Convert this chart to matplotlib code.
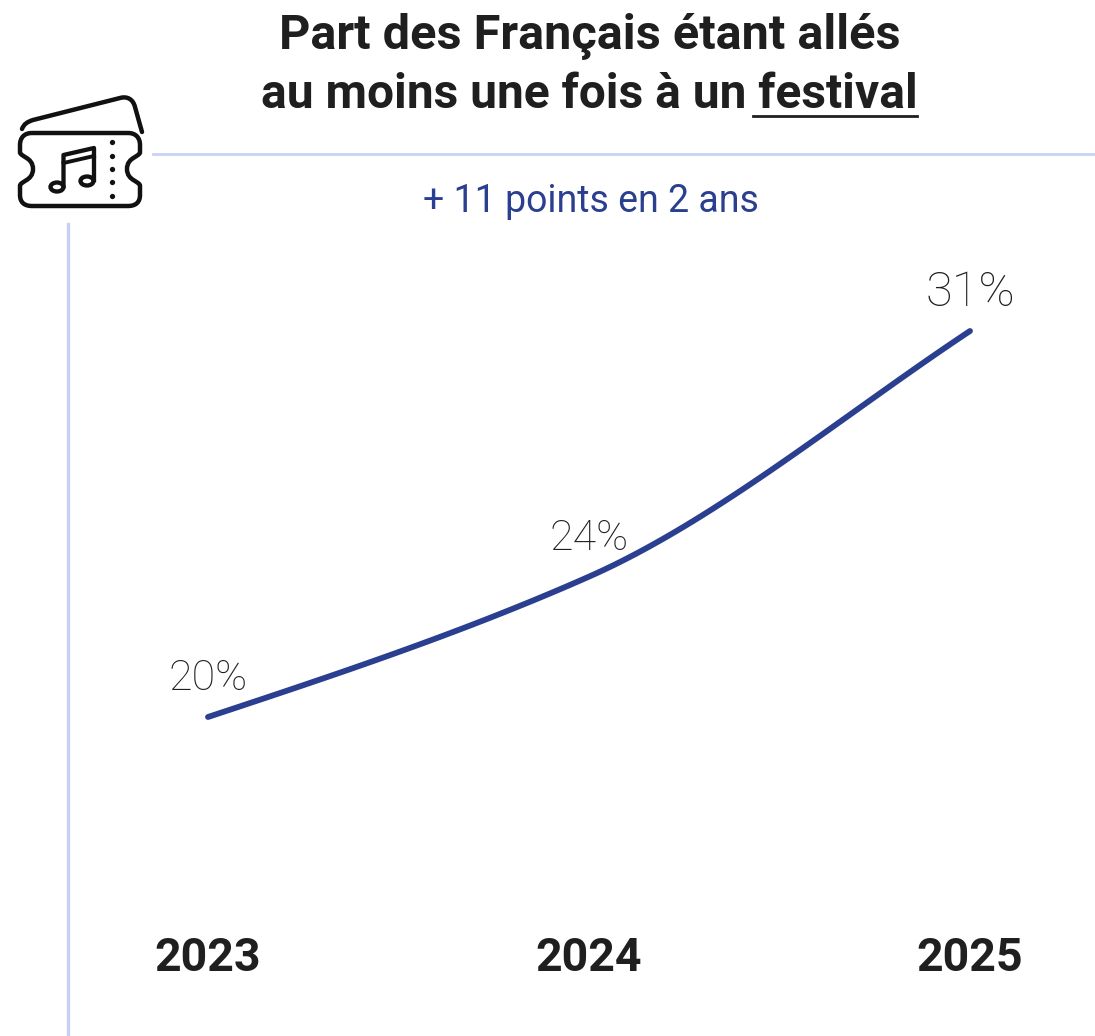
import matplotlib
matplotlib.use("Agg")
from matplotlib import pyplot as plt
from matplotlib.path import Path
from matplotlib.patches import PathPatch, Ellipse
import numpy as np

years = [2023, 2024, 2025]
values = [20, 24, 31]
year_labels = ["2023", "2024", "2025"]
value_labels = ["20%", "24%", "31%"]

W, H = 1095, 1036
blue = "#2a3f8f"
pale = "#c8d1f5"
dark = "#1f1f1f"
ink = "#111111"
plt.rcParams["font.family"] = ["Roboto", "DejaVu Sans"]

fig = plt.figure(figsize=(W / 100, H / 100), dpi=100)

# pixel overlay for the decoration
bg = fig.add_axes([0, 0, 1, 1])
bg.set_xlim(0, W)
bg.set_ylim(H, 0)
bg.axis("off")

# chart axes: x years, y percent
ax = fig.add_axes([208 / W, 1 - 717 / H, (970 - 208) / W, (717 - 331) / H])
ax.set_xlim(2023, 2025)
ax.set_ylim(20, 31)
ax.axis("off")

# smooth curve through the three points, tangents set by eye
tang = [3.6, 4.8, 7.2]
xs = []
ys = []
for i in range(2):
    t = np.linspace(0, 1, 60)
    h00 = 2 * t**3 - 3 * t**2 + 1
    h10 = t**3 - 2 * t**2 + t
    h01 = -2 * t**3 + 3 * t**2
    h11 = t**3 - t**2
    xs.extend(years[i] + t)
    ys.extend(h00 * values[i] + h10 * tang[i] + h01 * values[i + 1] + h11 * tang[i + 1])
ax.plot(xs, ys, color=blue, lw=4.2, solid_capstyle="round", clip_on=False)

# point labels
ax.annotate(value_labels[0], (years[0], values[0]), xytext=(0, 13), textcoords="offset points",
            ha="center", va="bottom", fontsize=31, color=dark, fontweight="light")
ax.annotate(value_labels[1], (years[1], values[1]), xytext=(0, 13), textcoords="offset points",
            ha="center", va="bottom", fontsize=31, color=dark, fontweight="light")
ax.annotate(value_labels[2], (years[2], values[2]), xytext=(0, 11), textcoords="offset points",
            ha="center", va="bottom", fontsize=35, color=dark, fontweight="light")

# year labels
for y, lab in zip(years, year_labels):
    ax.annotate(lab, (y, 20), xytext=(0, -173.5), textcoords="offset points",
                ha="center", va="center", fontsize=33.5, color=dark, fontweight="bold")

# title
bg.text(589.5, 36, "Part des Français étant allés", ha="center", va="center",
        fontsize=35, fontweight="bold", color=dark)
bg.text(589.5, 95, "au moins une fois à un festival", ha="center", va="center",
        fontsize=34.5, fontweight="bold", color=dark)
bg.plot([753, 917], [116, 116], color=dark, lw=2)

# subtitle
bg.text(591, 201, "+ 11 points en 2 ans", ha="center", va="center", fontsize=27, color=blue)

# rules
bg.plot([153, 1095], [153.5, 153.5], color=pale, lw=2)
bg.plot([67.5, 67.5], [224, 1036], color=pale, lw=2.4)

# ticket icon
M, L, C = Path.MOVETO, Path.LINETO, Path.CURVE4
body = [
    (M, (32, 133)), (L, (128, 133)),
    (C, (136, 133)), (C, (140, 138)), (C, (140, 145)),
    (L, (140, 152)),
    (C, (140, 157)), (C, (127, 157)), (C, (127, 169)),
    (C, (127, 181)), (C, (140, 181)), (C, (140, 186)),
    (L, (140, 195)),
    (C, (140, 202)), (C, (136, 206)), (C, (128, 206)),
    (L, (32, 206)),
    (C, (24, 206)), (C, (20, 202)), (C, (20, 195)),
    (L, (20, 186)),
    (C, (20, 181)), (C, (33, 181)), (C, (33, 169)),
    (C, (33, 157)), (C, (20, 157)), (C, (20, 152)),
    (L, (20, 145)),
    (C, (20, 138)), (C, (24, 133)), (C, (32, 133)),
]
bg.add_patch(PathPatch(Path([p for _, p in body], [c for c, _ in body]), fill=False, ec=ink, lw=3.2))
lid = [
    (M, (22, 129)),
    (C, (24, 124)), (C, (27, 122)), (C, (33, 120)),
    (L, (120, 98)),
    (C, (127, 96)), (C, (133, 99)), (C, (135, 107)),
    (L, (142, 132)),
]
bg.add_patch(PathPatch(Path([p for _, p in lid], [c for c, _ in lid]), fill=False, ec=ink, lw=3.2,
                       capstyle="round"))
bg.plot([112] * 5, [142, 156, 169, 182, 196], "o", color=ink, ms=3.8, mec="none")
bg.plot([63.5, 63.5, 94, 94], [186, 155, 148, 180], color=ink, lw=3.1, solid_joinstyle="round")
bg.plot([63.5, 94], [163, 156], color=ink, lw=2.8)
bg.add_patch(Ellipse((57, 187), 13, 9, fill=False, ec=ink, lw=3.1))
bg.add_patch(Ellipse((87, 181), 13, 9, fill=False, ec=ink, lw=3.1))

fig.savefig("out.png", dpi=100)
